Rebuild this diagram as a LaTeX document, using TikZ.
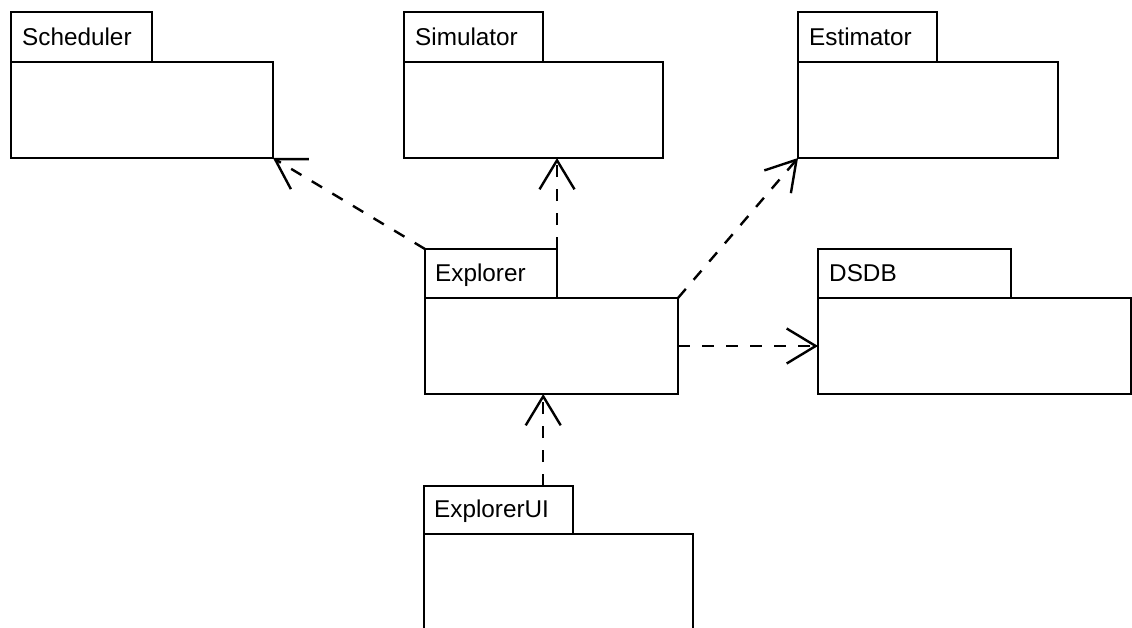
\documentclass[tikz,border=0pt]{standalone}
\usepackage{fontspec}
\setmainfont{Liberation Sans}
\usetikzlibrary{arrows.meta,calc}

\begin{document}
\begin{tikzpicture}[x=1pt,y=-1pt,
  line width=2.4pt,
  box/.style={draw=black, rectangle, anchor=north west, inner sep=0pt, outer sep=0pt},
  pkgname/.style={anchor=base west, inner sep=0pt, font=\fontsize{24.3}{29}\selectfont},
  dep/.style={draw=black, dash pattern=on 12pt off 12pt,
    -{Straight Barb[length=29pt,width=35pt,line width=2.4pt]}}]

\clip (0,0) rectangle (1132,627);
\fill[white] (0,0) rectangle (1132,627);

% Scheduler
\node[box, minimum width=141pt, minimum height=50pt] (schedT) at (11,12) {};
\node[box, minimum width=262pt, minimum height=96pt] (schedB) at (11,62) {};
\node[pkgname] (schedL) at (21,45.5) {Scheduler};

% Simulator
\node[box, minimum width=139pt, minimum height=50pt] (simT) at (404,12) {};
\node[box, minimum width=259pt, minimum height=96pt] (simB) at (404,62) {};
\node[pkgname] (simL) at (414,45.5) {Simulator};

% Estimator
\node[box, minimum width=139pt, minimum height=50pt] (estT) at (798,12) {};
\node[box, minimum width=260pt, minimum height=96pt] (estB) at (798,62) {};
\node[pkgname] (estL) at (808,45.5) {Estimator};

% Explorer
\node[box, minimum width=132pt, minimum height=49pt] (expT) at (425,249) {};
\node[box, minimum width=253pt, minimum height=96pt] (expB) at (425,298) {};
\node[pkgname] (expL) at (434,281) {Explorer};

% DSDB
\node[box, minimum width=193pt, minimum height=49pt] (dsdbT) at (818,249) {};
\node[box, minimum width=313pt, minimum height=96pt] (dsdbB) at (818,298) {};
\node[pkgname] (dsdbL) at (828,281) {DSDB};

% ExplorerUI
\node[box, minimum width=149pt, minimum height=48pt] (uiT) at (424,486) {};
\node[box, minimum width=269pt, minimum height=96pt] (uiB) at (424,534) {};
\node[pkgname] (uiL) at (433,517.5) {ExplorerUI};

\coordinate (uiTop) at ($(uiT.north west)!0.8!(uiT.north east)$);

% Dependencies
\draw[dep] (expT.north west) -- (schedB.south east);
\draw[dep] (expT.north east) -- (expT.north east |- simB.south);
\draw[dep] (expB.north east) -- (estB.south west);
\draw[dep] (expB.east) -- (dsdbB.west);
\draw[dep] (uiTop) -- (uiTop |- expB.south);

\end{tikzpicture}
\end{document}
